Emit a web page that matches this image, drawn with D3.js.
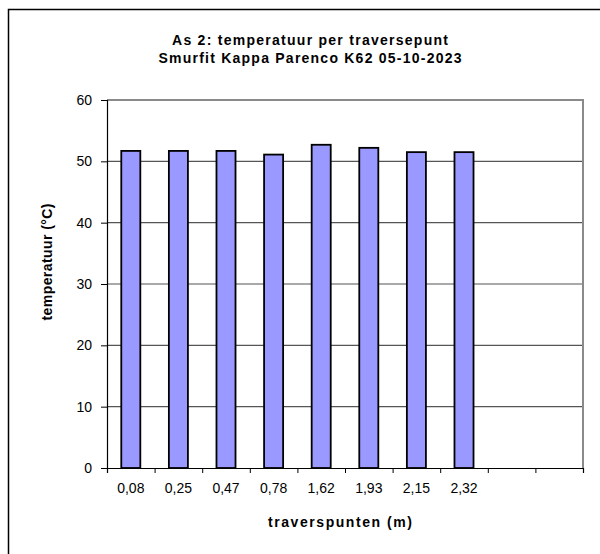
<!DOCTYPE html>
<html>
<head>
<meta charset="utf-8">
<script src="https://cdn.jsdelivr.net/npm/d3@7"></script>
<style>
  html, body { margin: 0; padding: 0; background: #fff; }
  svg { display: block; font-family: "Liberation Sans", Arial, sans-serif; }
</style>
</head>
<body>
<svg id="chart" width="600" height="554"></svg>
<script>
// Traverse points (m) and measured temperature (°C) on axis 2
const categories = ["0,08", "0,25", "0,47", "0,78", "1,62", "1,93", "2,15", "2,32", "", ""];
const temperatures = [51.7, 51.7, 51.7, 51.1, 52.7, 52.2, 51.5, 51.5];
const yTicks = [0, 10, 20, 30, 40, 50, 60];
const titleLines = ["As 2: temperatuur per traversepunt", "Smurfit Kappa Parenco K62 05-10-2023"];
const xTitle = "traverspunten (m)";
const yTitle = "temperatuur (°C)";

const svg = d3.select("#chart");
const plot = { left: 107, right: 583, top: 100, bottom: 468 };

// Outer chart frame (runs past the right and bottom edges)
svg.append("rect")
  .attr("x", 8.5).attr("y", 9.5)
  .attr("width", 620).attr("height", 600)
  .attr("fill", "none").attr("stroke", "#000").attr("stroke-width", 1.5);

const x = d3.scaleBand()
  .domain(d3.range(categories.length))
  .range([plot.left, plot.right]);
const xEdges = d3.scaleLinear()
  .domain([0, categories.length])
  .range([plot.left, plot.right]);
const y = d3.scaleLinear().domain([0, 60]).range([plot.bottom, plot.top]);

// Horizontal gridlines
svg.append("g")
  .selectAll("line")
  .data(yTicks.filter(v => v > 0 && v < 60))
  .join("line")
  .attr("x1", plot.left).attr("x2", plot.right)
  .attr("y1", d => y(d)).attr("y2", d => y(d))
  .attr("stroke", "#555").attr("stroke-width", 1.2);

// Plot area border (top and right)
svg.append("path")
  .attr("d", `M${plot.left},${y(60)}H${plot.right}V${plot.bottom}`)
  .attr("fill", "none").attr("stroke", "#8a8a8a").attr("stroke-width", 2);

// Bars
const barW = x.bandwidth() * 0.4;
svg.append("g")
  .selectAll("rect")
  .data(temperatures)
  .join("rect")
  .attr("x", (d, i) => x(i) + (x.bandwidth() - barW) / 2)
  .attr("y", d => y(d))
  .attr("width", barW)
  .attr("height", d => y(0) - y(d))
  .attr("fill", "#9999ff")
  .attr("stroke", "#000")
  .attr("stroke-width", 1.8);

// Y axis
const yAxis = svg.append("g")
  .attr("transform", `translate(${plot.left},0)`)
  .call(d3.axisLeft(y).tickValues(yTicks).tickSize(6).tickPadding(9).tickFormat(d3.format("d")));
yAxis.select(".domain").attr("stroke", "#000").attr("stroke-width", 1.2);
yAxis.selectAll(".tick line").attr("stroke", "#000");
yAxis.selectAll(".tick text")
  .attr("font-family", "Liberation Sans, Arial, sans-serif")
  .attr("font-size", 14).attr("fill", "#000");

// X axis: tick marks at category edges, labels at category centres
const xAxis = svg.append("g")
  .attr("transform", `translate(0,${plot.bottom})`)
  .call(d3.axisBottom(xEdges).tickValues(d3.range(categories.length + 1)).tickSize(5).tickFormat(""));
xAxis.select(".domain").attr("stroke", "#000").attr("stroke-width", 1.2);
xAxis.selectAll(".tick line").attr("stroke", "#000");

svg.append("g")
  .selectAll("text")
  .data(categories)
  .join("text")
  .attr("x", (d, i) => x(i) + x.bandwidth() / 2)
  .attr("y", 493)
  .attr("text-anchor", "middle")
  .attr("font-size", 14)
  .text(d => d);

// Titles
svg.append("g")
  .selectAll("text")
  .data(titleLines)
  .join("text")
  .attr("x", 310)
  .attr("y", (d, i) => 45 + i * 18)
  .attr("text-anchor", "middle")
  .attr("font-size", 14)
  .attr("font-weight", "bold")
  .attr("textLength", (d, i) => i === 0 ? 276 : 303)
  .attr("lengthAdjust", "spacing")
  .text(d => d);

svg.append("text")
  .attr("x", 340).attr("y", 527)
  .attr("text-anchor", "middle")
  .attr("font-size", 14).attr("font-weight", "bold")
  .attr("textLength", 144).attr("lengthAdjust", "spacing")
  .text(xTitle);

svg.append("text")
  .attr("transform", "translate(52,262) rotate(-90)")
  .attr("text-anchor", "middle")
  .attr("font-size", 14).attr("font-weight", "bold")
  .attr("textLength", 117).attr("lengthAdjust", "spacing")
  .text(yTitle);
</script>
</body>
</html>
